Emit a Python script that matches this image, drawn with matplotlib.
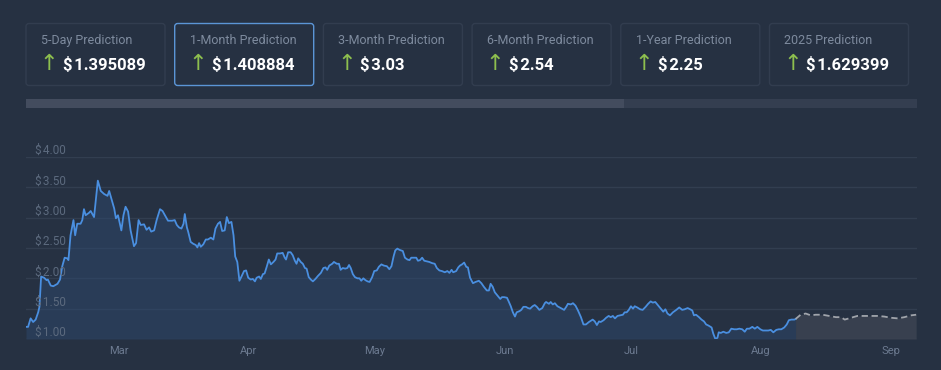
import pandas as pd
import matplotlib
matplotlib.use("Agg")
import matplotlib.pyplot as plt
import matplotlib.dates as mdates
from matplotlib.patches import FancyBboxPatch, Rectangle
from matplotlib.transforms import blended_transform_factory, offset_copy

plt.rcParams["font.family"] = ["Roboto", "DejaVu Sans"]

# ---- data ----
card_titles = ["5-Day Prediction", "1-Month Prediction", "3-Month Prediction",
               "6-Month Prediction", "1-Year Prediction", "2025 Prediction"]
card_values = ["1.395089", "1.408884", "3.03", "2.54", "2.25", "1.629399"]
selected_card = 1

start = pd.Timestamp("2024-02-08")
end_days = 212.1

# price history: days since start, price in $
hist_days = [0, 0.5, 1.1, 1.7, 2.3, 2.9, 3.2, 3.6, 4.3, 4.9, 5.2, 5.9, 6.5, 7.5, 8.1, 8.6, 9.2, 9.8, 10.1,
             10.6, 11.3, 11.7, 12.2, 13.0, 13.4, 13.8, 14.2, 15.0, 15.4, 16.2, 16.7, 17.1, 17.8, 18.6, 19.4,
             19.8, 20.3, 21.0, 21.4, 21.9, 22.7, 23.2, 23.7, 24.3, 24.9, 25.7, 26.2, 26.8, 27.3, 28.1, 28.7,
             29.3, 29.8, 30.5, 31.1, 31.9, 32.5, 33.3, 33.8, 34.8, 35.4, 35.9, 36.4, 37.0, 37.5, 37.8, 38.3,
             38.6, 39.2, 39.8, 40.4, 40.8, 41.2, 41.6, 42.2, 42.8, 43.3, 44.0, 44.6, 45.1, 45.7, 46.2, 46.7,
             47.3, 47.8, 48.3, 48.9, 49.4, 49.8, 50.3, 50.8, 51.3, 51.9, 52.4, 52.9, 53.5, 54.0, 54.5, 54.9,
             55.5, 55.9, 56.4, 56.8, 57.3, 57.8, 58.3, 58.9, 59.4, 59.8, 60.5, 61.1, 61.6, 61.9, 62.4, 63.0,
             63.5, 64.0, 64.4, 64.8, 65.4, 65.9, 66.4, 66.8, 67.3, 67.8, 68.3, 68.9, 69.5, 70.2, 70.8, 71.3,
             71.7, 72.2, 72.9, 73.3, 74.0, 74.5, 74.9, 75.4, 76.0, 76.5, 76.9, 77.3, 77.8, 78.3, 78.9, 79.4,
             79.8, 80.3, 80.8, 81.3, 81.8, 82.4, 82.9, 83.5, 84.0, 84.6, 85.2, 85.9, 86.5, 87.0, 87.5, 87.9,
             88.4, 88.9, 89.7, 90.2, 90.8, 91.3, 91.7, 92.4, 92.9, 93.3, 93.8, 94.3, 94.8, 95.4, 96.0, 96.7,
             97.3, 97.8, 98.4, 99.0, 99.7, 100.3, 100.8, 101.3, 101.7, 102.4, 102.9, 103.3, 103.8, 104.3,
             104.8, 105.2, 105.7, 106.4, 107.0, 107.8, 108.4, 109.0, 109.7, 110.2, 110.6, 111.1, 111.6,
             112.2, 112.9, 113.3, 113.8, 114.5, 114.9, 115.4, 115.9, 116.4, 116.8, 117.5, 117.9, 118.4,
             119.0, 119.5, 120.0, 120.6, 121.1, 121.6, 122.2, 122.9, 123.5, 123.8, 124.5, 124.9, 125.4,
             125.9, 126.5, 127.3, 128.1, 128.6, 129.0, 129.7, 130.2, 130.8, 131.4, 132.1, 132.7, 133.3,
             134.0, 134.9, 135.4, 135.9, 136.4, 136.8, 137.5, 138.1, 138.7, 139.2, 139.7, 140.2, 140.8,
             141.4, 142.1, 142.5, 143.0, 143.5, 144.0, 144.5, 144.9, 145.5, 146.2, 146.8, 147.5, 148.1,
             148.7, 149.2, 149.8, 150.5, 151.1, 151.7, 152.2, 152.7, 153.3, 154.0, 154.8, 155.5, 156.2,
             156.8, 157.5, 158.1, 158.6, 159.0, 159.5, 160.2, 160.8, 161.4, 161.9, 162.5, 163.2, 163.6,
             164.1, 164.6, 164.9, 165.4, 166.0, 166.7, 167.3, 167.9, 168.6, 169.2, 169.8, 170.5, 171.1,
             171.6, 172.2, 172.9, 173.5, 174.1, 174.8, 175.4, 176.0, 176.7, 177.3, 177.9, 178.6, 179.2,
             179.8, 180.5, 181.1, 181.6, 182.2, 182.9, 183.2]
hist_price = [1.20, 1.20, 1.34, 1.28, 1.32, 1.44, 1.53, 2.03, 2.01, 1.97, 1.98, 1.88, 1.87, 1.91, 1.98, 2.19,
              2.34, 2.33, 2.30, 2.71, 2.96, 2.71, 2.90, 2.90, 2.96, 3.14, 3.04, 3.08, 3.11, 3.01, 3.34, 3.61,
              3.44, 3.39, 3.36, 3.44, 3.32, 3.15, 2.99, 3.04, 2.79, 3.04, 3.18, 3.10, 2.79, 2.53, 2.58, 2.96,
              2.88, 2.89, 2.80, 2.84, 2.77, 2.79, 2.96, 3.14, 3.11, 3.01, 2.95, 2.95, 2.96, 2.88, 2.84, 2.82,
              2.90, 3.06, 2.84, 2.77, 2.60, 2.57, 2.55, 2.51, 2.58, 2.52, 2.56, 2.64, 2.64, 2.67, 2.64, 2.82,
              2.90, 2.93, 2.78, 2.79, 3.01, 2.91, 2.93, 2.71, 2.36, 2.27, 1.96, 2.03, 2.12, 2.13, 2.01, 1.98,
              1.99, 1.95, 2.01, 2.03, 1.99, 2.07, 2.08, 2.19, 2.31, 2.23, 2.27, 2.31, 2.41, 2.41, 2.42, 2.34,
              2.31, 2.43, 2.43, 2.38, 2.29, 2.24, 2.33, 2.27, 2.24, 2.17, 2.16, 2.02, 1.98, 1.95, 1.99, 2.04,
              2.09, 2.17, 2.18, 2.14, 2.21, 2.24, 2.27, 2.24, 2.24, 2.14, 2.17, 2.16, 2.17, 2.22, 2.17, 2.07,
              2.02, 2.00, 2.00, 1.96, 2.00, 1.97, 1.95, 1.94, 2.02, 2.12, 2.13, 2.19, 2.23, 2.21, 2.20, 2.15,
              2.20, 2.36, 2.46, 2.49, 2.47, 2.45, 2.34, 2.31, 2.30, 2.34, 2.34, 2.34, 2.29, 2.30, 2.34, 2.29,
              2.28, 2.27, 2.25, 2.24, 2.17, 2.13, 2.12, 2.10, 2.12, 2.09, 2.14, 2.10, 2.12, 2.18, 2.21, 2.23,
              2.26, 2.19, 2.18, 2.01, 1.92, 1.94, 1.96, 1.92, 1.86, 1.80, 1.80, 1.91, 1.86, 1.77, 1.72, 1.66,
              1.69, 1.69, 1.68, 1.62, 1.54, 1.44, 1.37, 1.44, 1.46, 1.48, 1.53, 1.53, 1.51, 1.50, 1.54, 1.56,
              1.53, 1.48, 1.51, 1.59, 1.61, 1.58, 1.61, 1.57, 1.59, 1.54, 1.51, 1.48, 1.53, 1.58, 1.57, 1.59,
              1.55, 1.47, 1.36, 1.24, 1.24, 1.28, 1.32, 1.29, 1.23, 1.29, 1.28, 1.31, 1.35, 1.38, 1.36, 1.38,
              1.34, 1.38, 1.39, 1.40, 1.44, 1.44, 1.48, 1.54, 1.50, 1.54, 1.52, 1.49, 1.48, 1.53, 1.58, 1.62,
              1.60, 1.61, 1.55, 1.50, 1.45, 1.49, 1.42, 1.39, 1.44, 1.48, 1.52, 1.48, 1.49, 1.51, 1.49, 1.47,
              1.39, 1.40, 1.36, 1.32, 1.29, 1.24, 1.22, 1.19, 1.09, 1.00, 1.02, 1.11, 1.10, 1.12, 1.10, 1.11,
              1.17, 1.16, 1.16, 1.17, 1.16, 1.12, 1.17, 1.17, 1.20, 1.17, 1.20, 1.16, 1.14, 1.14, 1.14, 1.15,
              1.11, 1.15, 1.16, 1.16, 1.19, 1.24, 1.31, 1.32, 1.32, 1.33]

# forecast
fc_days = [183.2, 184.4, 185.6, 186.8, 188.0, 189.6, 191.2, 192.8, 194.0, 194.9, 196.4, 197.9, 199.5,
           201.1, 202.7, 204.3, 205.9, 207.5, 209.1, 210.7, 211.9]
fc_price = [1.33, 1.40, 1.42, 1.39, 1.40, 1.40, 1.38, 1.36, 1.36, 1.32, 1.35, 1.38, 1.38, 1.38, 1.38,
            1.37, 1.35, 1.34, 1.36, 1.39, 1.40]

y_ticks = [1.0, 1.5, 2.0, 2.5, 3.0, 3.5, 4.0]

# ---- colours ----
BG = "#263142"
CARD_EDGE = "#323d4f"
SEL_EDGE = "#5b95d6"
TITLE_C = "#7e8b9e"
ARROW_C = "#8dbf4e"
LINE_C = "#4a8fe0"
GRID_C = "#323e50"

W, H = 941, 370
fig = plt.figure(figsize=(W / 100, H / 100), dpi=100, facecolor=BG)

# overlay axes in pixel units for the cards and scroller
ov = fig.add_axes([0, 0, 1, 1], zorder=0)
ov.set_xlim(0, W)
ov.set_ylim(H, 0)
ov.axis("off")

card_w, card_h, card_gap = 139, 62, 148.7
for i, (title, val) in enumerate(zip(card_titles, card_values)):
    x0 = 26 + i * card_gap
    edge = SEL_EDGE if i == selected_card else CARD_EDGE
    ov.add_patch(FancyBboxPatch((x0, 23.5), card_w, card_h,
                                boxstyle="round,pad=0,rounding_size=3",
                                facecolor=BG, edgecolor=edge, linewidth=1))
    ov.text(x0 + 15, 40.5, title, color=TITLE_C, fontsize=9, va="center", ha="left")
    ov.text(x0 + 23, 64.5, "\u2191", color=ARROW_C, fontsize=16, va="center", ha="center",
            family="DejaVu Sans")
    ov.text(x0 + 37, 64.5, "$\u200a" + val, color="white", fontsize=12, fontweight="bold",
            va="center", ha="left")

# scroller
ov.add_patch(Rectangle((26, 99), 598, 9, facecolor="#434c5e", edgecolor="none"))
ov.add_patch(Rectangle((624, 99), 293, 9, facecolor="#343e50", edgecolor="none"))

# ---- main chart ----
ax = fig.add_axes([26 / W, 1 - 339 / H, 891 / W, (339 - 157) / H], zorder=1)
ax.set_facecolor("none")

hist_dates = start + pd.to_timedelta(hist_days, unit="D")
fc_dates = start + pd.to_timedelta(fc_days, unit="D")

for y in y_ticks:
    ax.axhline(y, color=GRID_C, linewidth=1, zorder=0)

ax.fill_between(hist_dates, hist_price, 1.0, color="#2d4a72", alpha=0.45, linewidth=0, zorder=1)
ax.fill_between(fc_dates, fc_price, 1.0, color="#4a505c", alpha=0.5, linewidth=0, zorder=1)
ax.plot(hist_dates, hist_price, color=LINE_C, linewidth=1.3, zorder=3)
ax.plot(fc_dates, fc_price, color="#a0a4ab", linewidth=1.3, linestyle=(0, (3.5, 2)), zorder=3)

ax.set_xlim(start, start + pd.Timedelta(days=end_days))
ax.set_ylim(1.0, 4.0)
ax.set_yticks([])
for s in ax.spines.values():
    s.set_visible(False)

lab_tr = offset_copy(blended_transform_factory(ax.transAxes, ax.transData), fig=fig, y=0, units="points")
for y in y_ticks:
    ax.text(9 / 891, y, "$\u200a%.2f" % y, transform=lab_tr, color="#5c6a7e", fontsize=8.5,
            va="bottom", ha="left", zorder=4)

ax.xaxis.set_major_locator(mdates.MonthLocator())
ax.xaxis.set_major_formatter(mdates.DateFormatter("%b"))
ax.tick_params(axis="x", length=0, pad=5, labelsize=8, labelcolor="#6c7a90")

fig.savefig("out.png", dpi=100, facecolor=BG)
